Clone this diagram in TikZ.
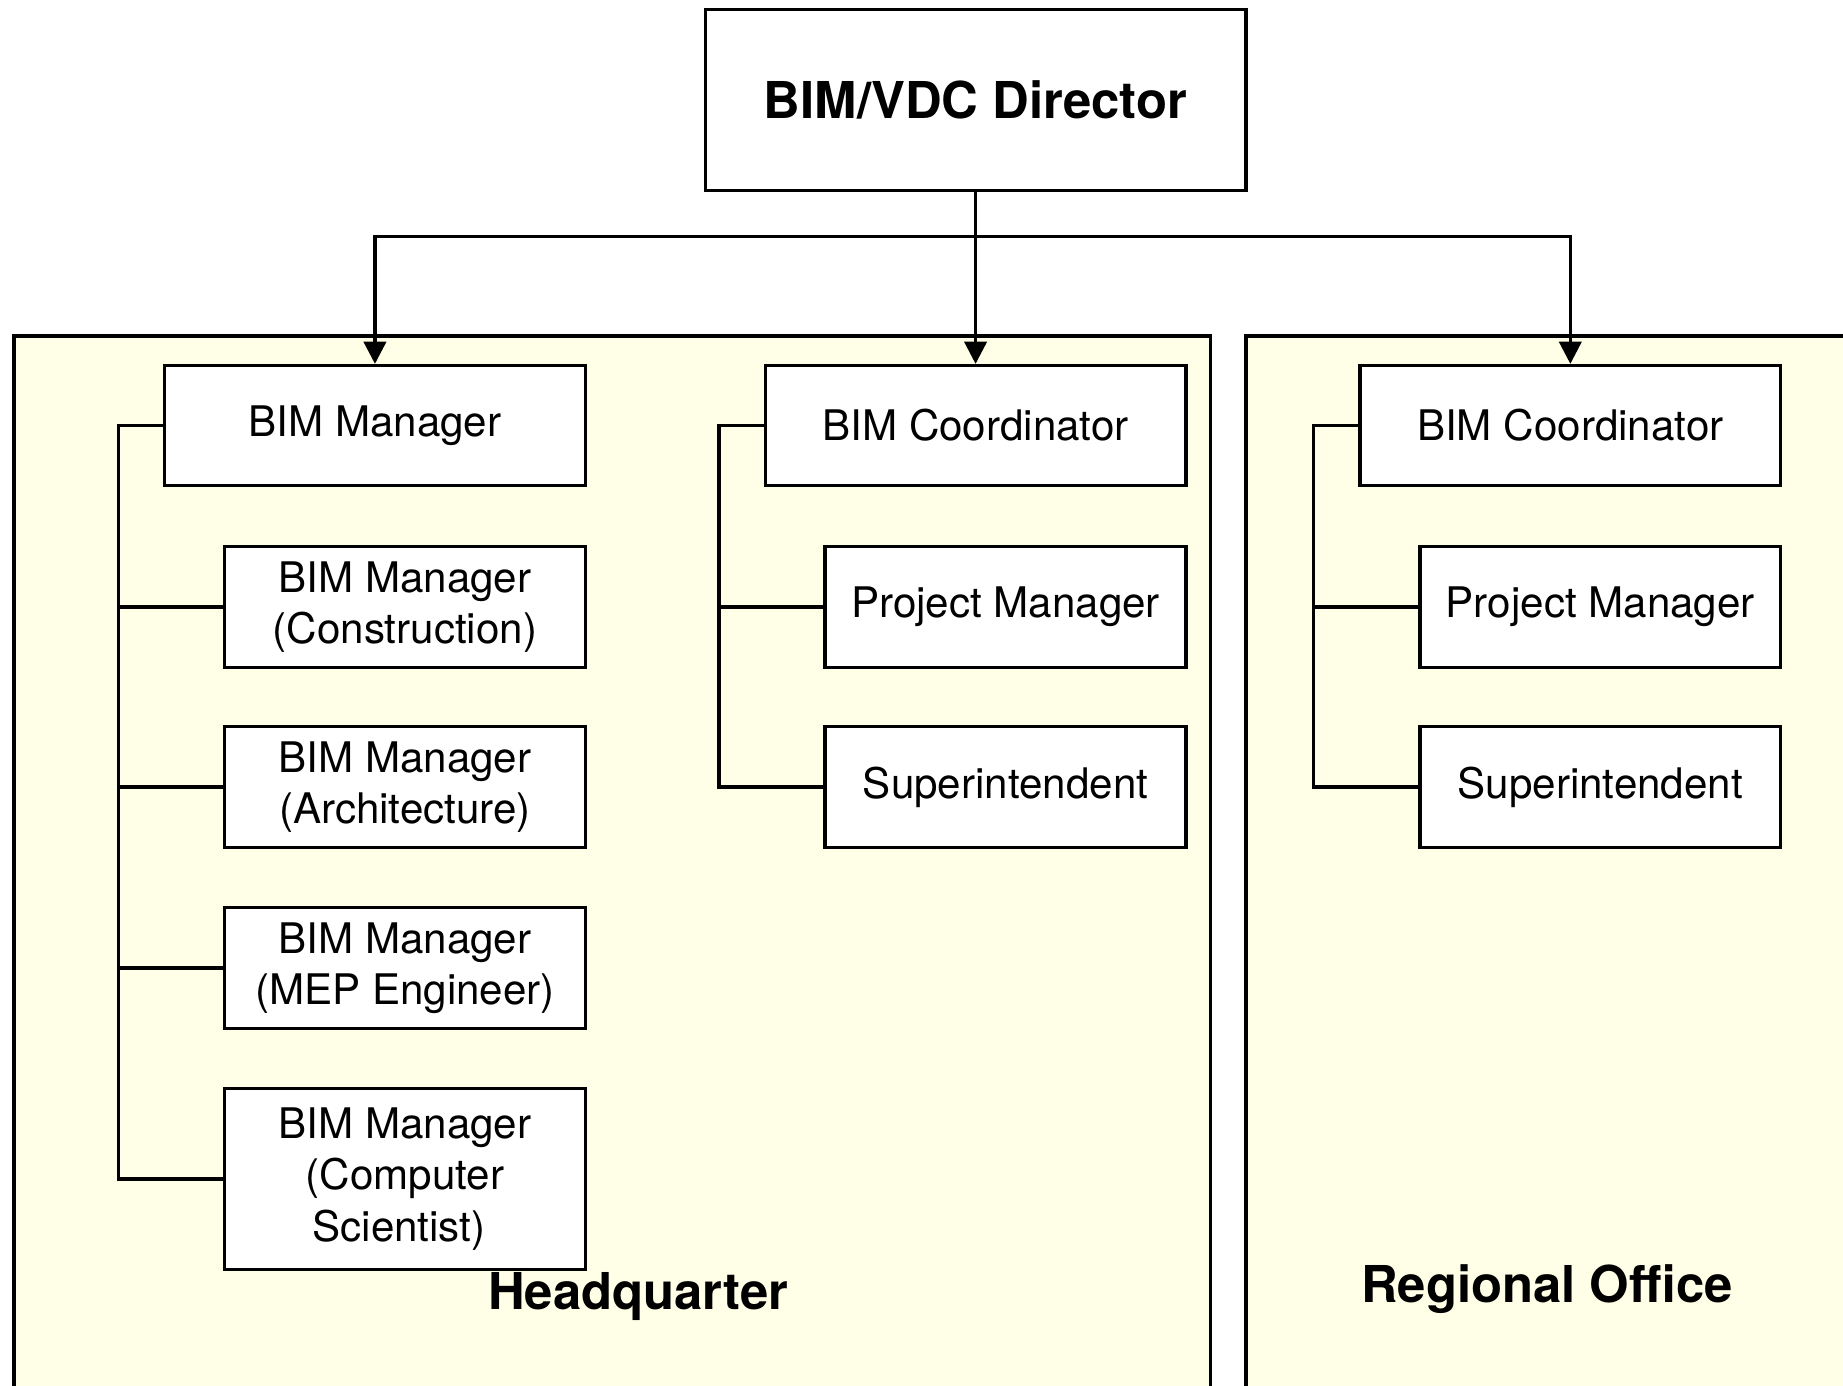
\documentclass[tikz,border=0pt]{standalone}
\usepackage{fontspec}
\setmainfont{TeX Gyre Heros}
\usetikzlibrary{arrows.meta,positioning}
\definecolor{panelfill}{RGB}{255,254,230}
\tikzstyle{arrow} = [line width=0.8pt,-{Triangle[length=0.19cm,width=0.19cm]}]
\tikzset{role/.style={rectangle,draw,line width=0.8pt,fill=white,align=center,inner sep=0pt,font=\fontsize{10.2}{12.4}\selectfont},
  boss/.style={role,minimum width=4.60cm,minimum height=1.54cm,font=\fontsize{12.3}{14}\selectfont\bfseries},
  lead/.style={role,minimum width=3.58cm,minimum height=1.02cm},
  staff/.style={role,minimum width=3.07cm,minimum height=1.03cm},
  panel/.style={draw,line width=0.8pt,fill=panelfill},
  bus/.style={line width=0.8pt},
  office/.style={font=\fontsize{12.3}{14}\selectfont\bfseries}}

\begin{document}
\begin{tikzpicture}
    \clip (0,0) rectangle (15.68,-11.79);
    \fill[white] (0,0) rectangle (15.68,-11.79);

    % office areas
    \draw[panel] (0.12,-2.86) rectangle (10.30,-12.5);
    \draw[panel] (10.60,-2.86) rectangle (16.5,-12.5);

    \node [boss] (director) at (8.30,-0.85) {BIM/VDC Director};

    % headquarter
    \node [lead] (mgr) at (3.19,-3.62) {BIM Manager};
    \node [staff] (mgrcon) at (3.445,-5.165) {BIM Manager\\(Construction)};
    \node [staff] (mgrarc) at (3.445,-6.695) {BIM Manager\\(Architecture)};
    \node [staff] (mgrmep) at (3.445,-8.235) {BIM Manager\\(MEP Engineer)};
    \node [staff, minimum height=1.54cm] (mgrcs) at (3.445,-10.03) {BIM Manager\\(Computer\\Scientist)\hspace*{0.1cm}};

    \node [lead] (hqcoord) at (8.30,-3.62) {BIM Coordinator};
    \node [staff] (hqpm) at (8.555,-5.165) {Project Manager};
    \node [staff] (hqsup) at (8.555,-6.695) {Superintendent};

    % regional office
    \node [lead] (rocoord) at (13.36,-3.62) {BIM Coordinator};
    \node [staff] (ropm) at (13.615,-5.165) {Project Manager};
    \node [staff] (rosup) at (13.615,-6.695) {Superintendent};

    \node [office] (hqlabel) at (5.43,-11.03) {Headquarter};
    \node [office] (rolabel) at (13.16,-10.97) {Regional Office};

    % reporting lines
    \coordinate (split) at (8.30,-2.01);
    \draw[arrow] (director.south) -- (hqcoord.north);
    \draw[arrow] (split) -| (mgr.north);
    \draw[arrow] (split) -| (rocoord.north);

    \draw[bus] (mgr.west) -- ++(-0.38,0) coordinate (mgrbus) |- (mgrcs.west);
    \foreach \n in {mgrcon,mgrarc,mgrmep}
        \draw[bus] (\n.west) -- (\n.west -| mgrbus);

    \draw[bus] (hqcoord.west) -- ++(-0.38,0) coordinate (hqbus) |- (hqsup.west);
    \draw[bus] (hqpm.west) -- (hqpm.west -| hqbus);

    \draw[bus] (rocoord.west) -- ++(-0.38,0) coordinate (robus) |- (rosup.west);
    \draw[bus] (ropm.west) -- (ropm.west -| robus);
\end{tikzpicture}
\end{document}
